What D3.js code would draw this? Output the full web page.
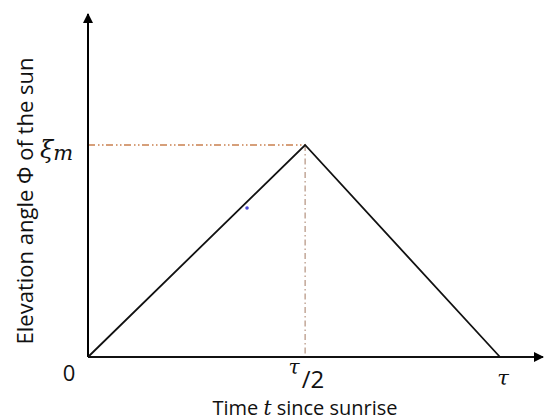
<!DOCTYPE html>
<html lang="en">
<head>
<meta charset="utf-8">
<title>Elevation angle of the sun</title>
<script src="https://cdn.jsdelivr.net/npm/d3@7"></script>
<style>
  body { margin: 0; background: #fff; }
  text { font-family: "Open Sans", "Noto Sans", sans-serif; fill: #111; }
  .math { font-family: "DejaVu Serif", serif; font-style: italic; }
</style>
</head>
<body>
<script>
// triangle profile: time as fraction of tau, elevation as fraction of xi_m
var times = [0, 0.527, 1];
var elevations = [0, 1, 0];
var marker = [0.386, 0.703]; // small blue dot next to the rising edge

var w = 544, h = 420;
var x0 = 88, y0 = 357;

var xScale = d3.scaleLinear().domain([0, 1]).range([x0, 500]);
var yScale = d3.scaleLinear().domain([0, 1]).range([y0, 145]);
var xPeak = xScale(times[1]);

var svg = d3.select("body").append("svg")
    .attr("width", w)
    .attr("height", h);

svg.append("defs").append("marker")
    .attr("id", "arrow")
    .attr("viewBox", "0 0 10 10")
    .attr("refX", 9).attr("refY", 5)
    .attr("markerWidth", 5).attr("markerHeight", 5)
    .attr("markerUnits", "strokeWidth")
    .attr("orient", "auto")
  .append("path")
    .attr("d", "M0,0L10,5L0,10Z")
    .attr("fill", "#000");

// guide lines to the peak
svg.append("line")
    .attr("x1", x0).attr("y1", yScale(1))
    .attr("x2", xPeak).attr("y2", yScale(1))
    .attr("stroke", "#c9804f").attr("stroke-width", 1.3)
    .attr("stroke-dasharray", "7,3,1.5,2.5,1.5,2.5");
svg.append("line")
    .attr("x1", xPeak).attr("y1", yScale(1))
    .attr("x2", xPeak).attr("y2", y0)
    .attr("stroke", "#b99a88").attr("stroke-width", 1.3)
    .attr("stroke-dasharray", "6,3,1.5,3");

// axes
svg.append("line")
    .attr("x1", x0).attr("y1", y0)
    .attr("x2", x0).attr("y2", 14)
    .attr("stroke", "#000").attr("stroke-width", 2)
    .attr("marker-end", "url(#arrow)");
svg.append("line")
    .attr("x1", x0).attr("y1", y0)
    .attr("x2", 543).attr("y2", y0)
    .attr("stroke", "#111").attr("stroke-width", 2)
    .attr("marker-end", "url(#arrow)");

// profile
var line = d3.line()
    .x(function(d, i) { return xScale(times[i]); })
    .y(function(d) { return yScale(d); });
svg.append("path")
    .datum(elevations)
    .attr("d", line)
    .attr("fill", "none")
    .attr("stroke", "#111")
    .attr("stroke-width", 1.8)
    .attr("stroke-linejoin", "miter");

svg.append("circle")
    .attr("cx", xScale(marker[0]))
    .attr("cy", yScale(marker[1]))
    .attr("r", 1.8)
    .attr("fill", "#4a4ad8");

// tick labels
svg.append("text")
    .attr("x", 69).attr("y", 381)
    .attr("text-anchor", "middle")
    .attr("font-size", 22)
    .text("0");

svg.append("text")
    .attr("class", "math")
    .attr("x", 294).attr("y", 374)
    .attr("text-anchor", "middle")
    .attr("font-size", 20)
    .text("τ");
svg.append("text")
    .attr("x", 313).attr("y", 388)
    .attr("text-anchor", "middle")
    .attr("font-size", 24)
    .text("/2");

svg.append("text")
    .attr("class", "math")
    .attr("x", 503).attr("y", 385)
    .attr("text-anchor", "middle")
    .attr("font-size", 21)
    .text("τ");

var xi = svg.append("text")
    .attr("class", "math")
    .attr("x", 40).attr("y", 158)
    .attr("font-size", 24);
xi.append("tspan").text("ξ");
xi.append("tspan").attr("font-size", 21).attr("dy", 2).text("m");

// axis titles
var xt = svg.append("text")
    .attr("x", 305).attr("y", 415)
    .attr("text-anchor", "middle")
    .attr("font-size", 20);
xt.append("tspan").text("Time ");
xt.append("tspan").attr("class", "math").text("t");
xt.append("tspan").text(" since sunrise");

svg.append("text")
    .attr("transform", "translate(33,201) rotate(-90)")
    .attr("text-anchor", "middle")
    .attr("font-size", 22)
    .text("Elevation angle Φ of the sun");
</script>
</body>
</html>
